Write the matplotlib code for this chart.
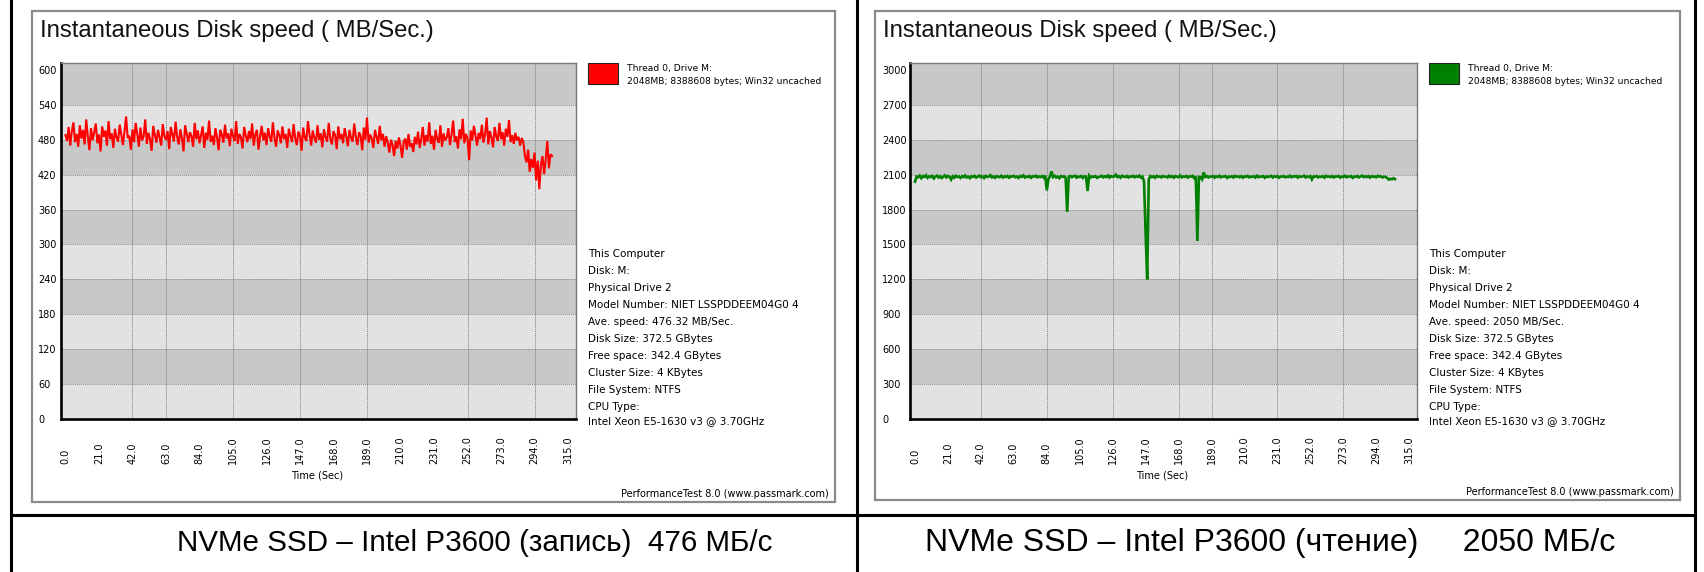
import numpy as np
import matplotlib
matplotlib.use('Agg')
import matplotlib.pyplot as plt
from matplotlib.patches import Rectangle
from matplotlib.lines import Line2D

# ---------------- data ----------------
sample_step = 1.0  # seconds between samples

write_speed = [
    488, 478, 502, 470, 495, 510, 476, 490, 468, 505, 482, 497, 472, 515, 486, 462, 500, 479, 493, 508,
    474, 489, 460, 503, 485, 496, 470, 512, 481, 491, 466, 499, 484, 477, 506, 488, 471, 494, 520, 483,
    487, 463, 498, 476, 509, 490, 468, 501, 479, 486, 515, 473, 492, 481, 461, 504, 488, 475, 497, 484,
    470, 507, 486, 480, 495, 464, 502, 489, 477, 511, 485, 472, 498, 483, 460, 505, 490, 476, 493, 486,
    468, 509, 481, 496, 474, 488, 503, 466, 492, 480, 513, 477, 487, 471, 500, 484, 462, 497, 489, 475,
    506, 482, 491, 469, 499, 486, 478, 512, 473, 490, 484, 465, 502, 487, 476, 495, 481, 508, 470, 489,
    497, 463, 486, 504, 479, 492, 471, 500, 485, 477, 510, 483, 468, 496, 488, 474, 503, 481, 490, 466,
    499, 486, 476, 507, 482, 471, 494, 487, 461, 501, 484, 478, 512, 489, 470, 496, 483, 475, 505, 480,
    491, 467, 498, 485, 477, 509, 482, 472, 495, 488, 464, 503, 481, 490, 474, 500, 486, 469, 497, 483,
    477, 508, 484, 471, 493, 487, 462, 501, 480, 518, 475, 489, 482, 466, 497, 485, 473, 504, 479, 490,
    468, 486, 475, 458, 480, 471, 452, 478, 465, 484, 470, 449, 476, 482, 463, 490, 468, 474, 459, 485,
    472, 494, 466, 481, 502, 470, 488, 477, 510, 473, 487, 463, 497, 482, 475, 505, 468, 491, 479, 484,
    500, 471, 489, 513, 476, 486, 465, 498, 481, 516, 474, 490, 483, 445, 496, 479, 504, 487, 470, 492,
    481, 506, 475, 489, 518, 472, 495, 484, 467, 502, 486, 478, 509, 481, 493, 470, 499, 485, 514, 476,
    488, 473, 492, 479, 485, 470, 483, 476, 452, 441, 463, 425, 447, 432, 458, 410, 444, 395, 437, 452,
    421, 446, 478, 431, 455, 452,
]

read_speed = [
    2040, 2085, 2078, 2092, 2070, 2088, 2081, 2095, 2073, 2086, 2079, 2090, 2068, 2084, 2092, 2076, 2087, 2071, 2083, 2094,
    2077, 2089, 2082, 2058, 2086, 2074, 2091, 2080, 2085, 2072, 2088, 2079, 2093, 2076, 2084, 2070, 2087, 2081, 2090, 2075,
    2083, 2092, 2078, 2086, 2071, 2089, 2080, 2084, 2096, 2077, 2085, 2073, 2088, 2082, 2079, 2091, 2075, 2086, 2080, 2089,
    2074, 2087, 2083, 2090, 2078, 2085, 2072, 2088, 2081, 2094, 2076, 2084, 2079, 2089, 2073, 2086, 2082, 2091, 2077, 2085,
    2080, 2088, 2074, 2092, 1965, 2060, 2085, 2128, 2079, 2090, 2076, 2084, 2070, 2088, 2081, 2086, 2075, 1780, 2083, 2089,
    2078, 2086, 2091, 2074, 2085, 2080, 2088, 2072, 2087, 2083, 1960, 2092, 2076, 2084, 2081, 2088, 2073, 2080, 2082, 2090,
    2077, 2086, 2080, 2093, 2075, 2088, 2082, 2085, 2100, 2079, 2087, 2074, 2091, 2083, 2080, 2089, 2076, 2086, 2082, 2090,
    2078, 2087, 2081, 2092, 2075, 2084, 2040, 1600, 1200, 2060, 2088, 2079, 2086, 2073, 2090, 2082, 2085, 2077, 2089, 2081,
    2084, 2076, 2091, 2080, 2087, 2074, 2088, 2082, 2079, 2093, 2077, 2085, 2081, 2089, 2075, 2086, 2083, 2090, 2070, 2085,
    1530, 2082, 2078, 2060, 2120, 2081, 2089, 2076, 2084, 2082, 2088, 2074, 2086, 2080, 2091, 2077, 2085, 2083, 2089, 2072,
    2084, 2080, 2087, 2076, 2090, 2082, 2085, 2078, 2088, 2074, 2086, 2081, 2089, 2077, 2084, 2080, 2087, 2075, 2091, 2079,
    2085, 2082, 2088, 2073, 2086, 2080, 2084, 2090, 2076, 2087, 2081, 2089, 2074, 2085, 2082, 2088, 2077, 2084, 2080, 2091,
    2078, 2086, 2083, 2089, 2075, 2087, 2081, 2084, 2092, 2076, 2085, 2080, 2088, 2060, 2086, 2082, 2089, 2077, 2084, 2081,
    2087, 2074, 2090, 2082, 2085, 2079, 2088, 2076, 2086, 2083, 2089, 2075, 2084, 2080, 2091, 2078, 2086, 2082, 2088, 2073,
    2085, 2081, 2089, 2077, 2084, 2092, 2079, 2086, 2080, 2088, 2075, 2087, 2082, 2085, 2078, 2090, 2083, 2086, 2076, 2084,
    2080, 2072, 2058, 2065, 2060, 2070, 2062,
]

x_ticks = [0, 21, 42, 63, 84, 105, 126, 147, 168, 189, 210, 231, 252, 273, 294, 315]
write_yticks = [0, 60, 120, 180, 240, 300, 360, 420, 480, 540, 600]
read_yticks = [0, 300, 600, 900, 1200, 1500, 1800, 2100, 2400, 2700, 3000]
write_visible_vgrid = [42, 63, 105, 147, 189, 252, 294]
read_visible_vgrid = [42, 84, 126, 168, 189, 231, 273]

title_text = "Instantaneous Disk speed ( MB/Sec.)"
legend_lines = ["Thread 0, Drive M:", "2048MB; 8388608 bytes; Win32 uncached"]
info_common = ["This Computer", "Disk: M:", "Physical Drive 2", "Model Number: NIET LSSPDDEEM04G0 4"]
info_tail = ["Disk Size: 372.5 GBytes", "Free space: 342.4 GBytes", "Cluster Size: 4 KBytes",
             "File System: NTFS", "CPU Type:", "Intel Xeon E5-1630 v3 @ 3.70GHz"]
write_ave = "Ave. speed: 476.32 MB/Sec."
read_ave = "Ave. speed: 2050 MB/Sec."
caption_write = "NVMe SSD – Intel P3600 (запись)  476 МБ/с"
caption_read = "NVMe SSD – Intel P3600 (чтение)     2050 МБ/с"
footer = "PerformanceTest 8.0 (www.passmark.com)"

# ---------------- figure ----------------
W, H = 1704, 572
plt.rcParams['hatch.linewidth'] = 0.5
fig = plt.figure(figsize=(W / 100, H / 100), dpi=100)
fig.patch.set_facecolor('white')


def fx(px):
    return px / W


def fy(py):
    return 1 - py / H


def hline(x0, x1, y, **kw):
    fig.add_artist(Line2D([fx(x0), fx(x1)], [fy(y), fy(y)], transform=fig.transFigure, **kw))


def vline(x, y0, y1, **kw):
    fig.add_artist(Line2D([fx(x), fx(x)], [fy(y0), fy(y1)], transform=fig.transFigure, **kw))


# outer table lines
vline(11, 0, 572, color='black', lw=2.2)
vline(857, 0, 572, color='black', lw=2.2)
vline(1695, 0, 572, color='black', lw=2.2)
hline(11, 1695, 515, color='black', lw=2.2)

small_font = 'DejaVu Sans'


def panel(box, plot, t_vals, v_vals, color, lw, yticks, ymax, vgrid, ave_line, ylab_pad_px, xlim):
    bx0, by0, bx1, by1 = box
    # window frame
    fig.add_artist(Rectangle((fx(bx0), fy(by1)), fx(bx1) - fx(bx0), fy(by0) - fy(by1),
                             transform=fig.transFigure, facecolor='white',
                             edgecolor='#8a8a8a', lw=1.6, zorder=0))
    fig.text(fx(bx0 + 8), fy(31), title_text, fontsize=17.2, family='Liberation Sans',
             va='center', ha='left', color='#111111')
    px0, py0, px1, py1 = plot
    ax = fig.add_axes([fx(px0), fy(py1), fx(px1) - fx(px0), fy(py0) - fy(py1)])
    ax.set_xlim(*xlim)
    ax.set_ylim(0, ymax)
    ax.set_facecolor('#c8c8c8')
    for i in range(len(yticks) - 1):
        lo, hi = yticks[i], yticks[i + 1]
        if i % 2 == 0:
            ax.axhspan(lo, hi, facecolor='#cacaca', edgecolor='#e2e2e2', hatch='+' * 22,
                       lw=0, zorder=0.5)
    for y in yticks[1:-1]:
        ax.axhline(y, color='#8c8c8c', lw=0.7, ls=(0, (1, 1)), zorder=1)
    for g in vgrid:
        ax.axvline(g, color='#7c7c7c', lw=0.7, ls=(0, (1, 1)), zorder=1)
    ax.plot(t_vals, v_vals, color=color, lw=lw, zorder=3, solid_joinstyle='miter')
    for s in ['left', 'bottom']:
        ax.spines[s].set_color('black')
        ax.spines[s].set_linewidth(1.9)
    for s in ['top', 'right']:
        ax.spines[s].set_color('#7a7a7a')
        ax.spines[s].set_linewidth(1.0)
    ax.set_xticks(x_ticks)
    ax.set_xticklabels([f"{v:.1f}" for v in x_ticks], rotation=90, va='bottom',
                       fontsize=7, family=small_font)
    ax.set_yticks(yticks)
    ax.set_yticklabels([str(v) for v in yticks], ha='left', fontsize=7, family=small_font)
    ax.tick_params(axis='x', length=0, pad=45 * 0.72)
    ax.tick_params(axis='y', length=0, pad=ylab_pad_px * 0.72)
    # x axis label
    fig.text(fx((px0 + px1) / 2 - 1), fy(476), "Time (Sec)", fontsize=7, family=small_font,
             ha='center', va='center')
    # legend
    lx = px1 + 12
    fig.add_artist(Rectangle((fx(lx), fy(84)), fx(30), 21 / H, transform=fig.transFigure,
                             facecolor=color, edgecolor='#222222', lw=0.8))
    fig.text(fx(lx + 39), fy(68), legend_lines[0], fontsize=6.6, family=small_font,
             ha='left', va='center')
    fig.text(fx(lx + 39), fy(82), legend_lines[1], fontsize=6.6, family=small_font,
             ha='left', va='center')
    # info block
    lines = info_common + [ave_line] + info_tail
    ys = [254 + 17 * k for k in range(10)] + [254 + 17 * 9 + 14]
    for txt, yy in zip(lines, ys):
        fig.text(fx(lx), fy(yy), txt, fontsize=7.45, family=small_font, ha='left', va='center')
    fig.text(fx(bx1 - 6), fy(by1 - 8), footer, fontsize=7, family=small_font,
             ha='right', va='center')
    return ax


t_write = [i * sample_step for i in range(len(write_speed))]
t_read = [i * sample_step for i in range(len(read_speed))]

panel((32, 11, 835, 502), (61, 63, 576, 419), t_write, write_speed, '#ff0000', 1.5,
      write_yticks, 612, write_visible_vgrid, write_ave, 23, (-2.8, 320))
panel((875, 11, 1680, 500), (910, 63, 1417, 419), t_read, read_speed, '#008000', 1.9,
      read_yticks, 3060, read_visible_vgrid, read_ave, 28, (-3.2, 320))

fig.text(fx(177), fy(543), caption_write, fontsize=21.3, family='Liberation Sans',
         ha='left', va='center')
fig.text(fx(925), fy(543), caption_read, fontsize=23.0, family='Liberation Sans',
         ha='left', va='center')

fig.savefig('out.png', dpi=100, facecolor='white')
